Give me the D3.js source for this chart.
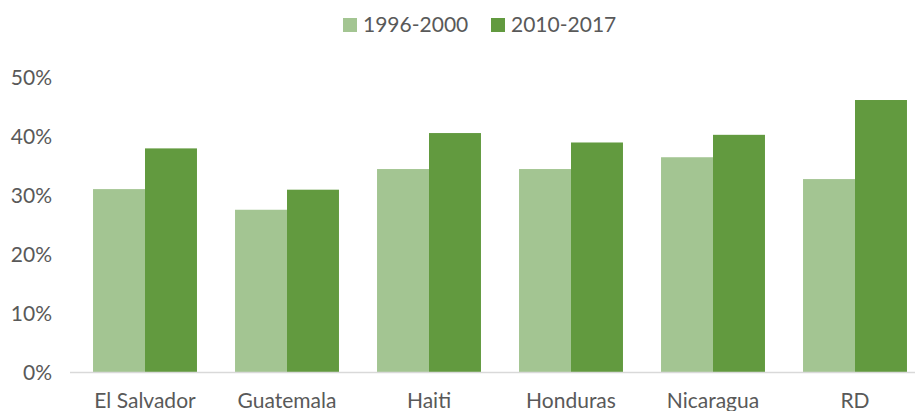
<!DOCTYPE html>
<html>
<head>
<meta charset="utf-8">
<script src="https://cdn.jsdelivr.net/npm/d3@7"></script>
<style>
  html, body { margin: 0; padding: 0; background: #fff; }
  svg { display: block; }
  text { font-family: Lato, "Open Sans", sans-serif; fill: #595959; }
</style>
</head>
<body>
<svg id="chart" width="915" height="411"></svg>
<script>
// Chart data
const categories = ["El Salvador", "Guatemala", "Haiti", "Honduras", "Nicaragua", "RD"];
const seriesNames = ["1996-2000", "2010-2017"];
const values1996 = [0.310, 0.275, 0.344, 0.344, 0.364, 0.327];
const values2010 = [0.379, 0.309, 0.405, 0.389, 0.402, 0.461];
const yTicks = [0, 0.1, 0.2, 0.3, 0.4, 0.5];
const colors = ["#A3C592", "#629A3F"];

const svg = d3.select("#chart");
const fontSize = 21;

const x0 = d3.scaleBand().domain(categories).range([74, 926]).paddingInner(0.268).paddingOuter(0.134);
const x1 = d3.scaleBand().domain(seriesNames).range([0, x0.bandwidth()]).padding(0);
const y = d3.scaleLinear().domain([0, 0.5]).range([372, 77]);

const rows = categories.map((c, i) => ({ cat: c, vals: [values1996[i], values2010[i]] }));

// Y axis labels (no gridlines)
const yAxis = d3.axisLeft(y).tickValues(yTicks).tickFormat(d3.format(".0%")).tickSize(0).tickPadding(0);
const yg = svg.append("g").attr("transform", "translate(52,0)").call(yAxis);
yg.select(".domain").remove();
yg.selectAll("text").attr("font-size", fontSize).attr("fill", "#595959")
  .attr("font-family", "Lato, 'Open Sans', sans-serif").attr("dy", "0.35em");

// Bars
const groups = svg.append("g").selectAll("g").data(rows).join("g")
  .attr("transform", d => `translate(${x0(d.cat)},0)`);
groups.selectAll("rect").data(d => d.vals.map((v, j) => ({ key: seriesNames[j], v, j })))
  .join("rect")
  .attr("x", d => x1(d.key))
  .attr("y", d => y(d.v))
  .attr("width", x1.bandwidth())
  .attr("height", d => y(0) - y(d.v))
  .attr("fill", d => colors[d.j]);

// Baseline
svg.append("line").attr("x1", 70).attr("x2", 915).attr("y1", y(0) + 0.5).attr("y2", y(0) + 0.5)
  .attr("stroke", "#D9D9D9").attr("stroke-width", 1.5);

// Category axis labels
const xAxis = d3.axisBottom(x0).tickSize(0).tickPadding(0);
const xg = svg.append("g").attr("transform", `translate(0,${y(0)})`).call(xAxis);
xg.select(".domain").remove();
xg.selectAll("text").attr("font-size", fontSize).attr("fill", "#595959")
  .attr("font-family", "Lato, 'Open Sans', sans-serif").attr("dy", null).attr("y", 36);

// Legend
const legendItems = [
  { name: seriesNames[0], color: colors[0], x: 343 },
  { name: seriesNames[1], color: colors[1], x: 491 }
];
const lg = svg.append("g").selectAll("g").data(legendItems).join("g")
  .attr("transform", d => `translate(${d.x},18)`);
lg.append("rect").attr("width", 14).attr("height", 14).attr("fill", d => d.color);
lg.append("text").attr("x", 20).attr("y", 7).attr("dy", "0.35em")
  .attr("font-size", fontSize).text(d => d.name);
</script>
</body>
</html>
